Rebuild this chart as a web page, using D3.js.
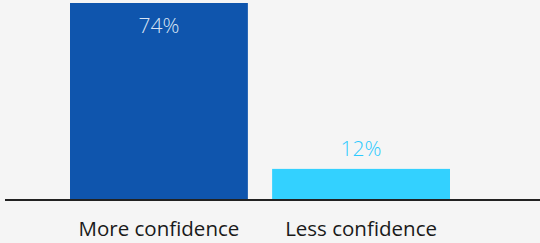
<!DOCTYPE html>
<html><head><meta charset="utf-8">
<script src="https://cdn.jsdelivr.net/npm/d3@7"></script>
<style>
html,body{margin:0;padding:0;background:#f5f5f5;}
svg{display:block;}
</style></head>
<body>
<script>
const categories = ["More confidence", "Less confidence"];
const values = [74, 12];
const valueLabels = ["74%", "12%"];
const barColors = ["#0f55ad", "#33d1ff"];
const labelColors = ["#d8e4f4", "#2ccaff"];

const W = 540, H = 243;
const svg = d3.select("body").append("svg").attr("width", W).attr("height", H)
  .style("background", "#f5f5f5");

const x = d3.scaleBand().domain(categories).range([70, 450]).paddingInner(0.12).paddingOuter(0);
const y = d3.scaleLinear().domain([0, 74]).range([201, 3]);

svg.selectAll("rect.bar").data(categories).join("rect")
  .attr("class", "bar")
  .attr("x", d => x(d))
  .attr("width", x.bandwidth())
  .attr("y", (d, i) => y(values[i]))
  .attr("height", (d, i) => y(0) - y(values[i]))
  .attr("fill", (d, i) => barColors[i]);

svg.append("line").attr("x1", 5).attr("x2", 540).attr("y1", 200).attr("y2", 200)
  .attr("stroke", "#222").attr("stroke-width", 2);

svg.selectAll("text.val").data(categories).join("text")
  .attr("class", "val")
  .attr("x", d => x(d) + x.bandwidth() / 2)
  .attr("y", (d, i) => i === 0 ? y(values[i]) + 30 : y(values[i]) - 13)
  .attr("text-anchor", "middle")
  .attr("font-family", "'Open Sans', sans-serif")
  .attr("font-weight", 300)
  .attr("font-size", 21)
  .attr("fill", (d, i) => labelColors[i])
  .text((d, i) => valueLabels[i]);

svg.selectAll("text.cat").data(categories).join("text")
  .attr("class", "cat")
  .attr("x", d => x(d) + x.bandwidth() / 2)
  .attr("y", 236)
  .attr("text-anchor", "middle")
  .attr("font-family", "'Open Sans', sans-serif")
  .attr("font-weight", 500)
  .attr("font-size", 20.5)
  .attr("fill", "#1a1a1a")
  .text(d => d);
</script>
</body></html>
